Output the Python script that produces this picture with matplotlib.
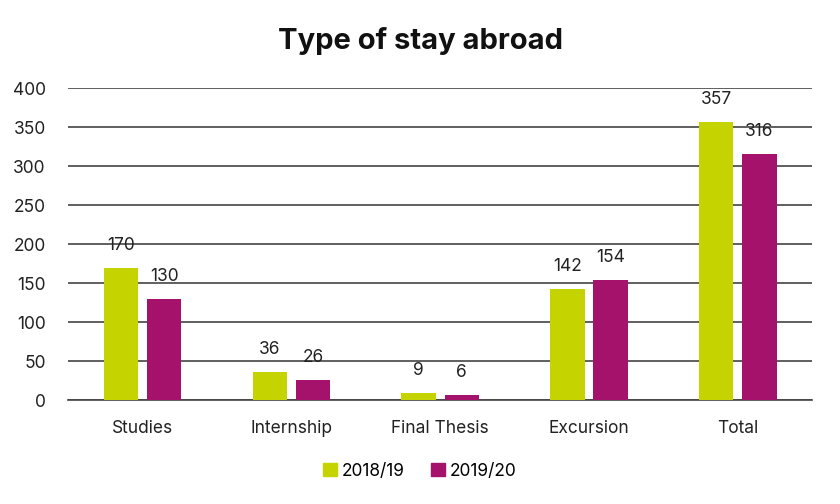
import numpy as np
from matplotlib import pyplot as plt
from matplotlib.patches import Patch

categories = ['Studies', 'Internship', 'Final Thesis', 'Excursion', 'Total']
series_names = ['2018/19', '2019/20']
values_1819 = [170, 36, 9, 142, 357]
values_1920 = [130, 26, 6, 154, 316]
colors = ['#c5d300', '#a5126b']

plt.rcParams['font.family'] = ['Inter', 'DejaVu Sans']

fig = plt.figure(figsize=(8.4, 5.04), dpi=100)
ax = fig.add_axes([0.081, 0.206, 0.886, 0.619])

x = np.arange(len(categories))
w = 0.23
off = 0.145
for vals, dx, c in zip([values_1819, values_1920], [-off, off], colors):
    bars = ax.bar(x + dx, vals, width=w, color=c, zorder=3)
    for b, v in zip(bars, vals):
        ax.text(b.get_x() + b.get_width() / 2, v + 18, str(v), ha='center', va='bottom',
                fontsize=12.5, color='#222222')

ax.set_xlim(-0.5, len(categories) - 0.5)
ax.set_ylim(0, 400)
ax.set_yticks(range(0, 401, 50))
ax.yaxis.grid(True, color='#444444', linewidth=1.2, zorder=0)
ax.set_axisbelow(True)
for s in ['top', 'right', 'left']:
    ax.spines[s].set_visible(False)
ax.spines['bottom'].set_color('#444444')
ax.spines['bottom'].set_linewidth(1.2)
ax.tick_params(axis='both', length=0, labelsize=12.5, colors='#222222')
ax.tick_params(axis='y', pad=16)
ax.tick_params(axis='x', pad=14)
ax.set_xticks(x)
ax.set_xticklabels(categories)

fig.text(0.5, 0.918, 'Type of stay abroad', ha='center', va='center',
         fontsize=21, fontweight='bold', color='#111111')

handles = [Patch(color=c, label=n) for c, n in zip(colors, series_names)]
fig.legend(handles=handles, loc='center', bbox_to_anchor=(0.5, 0.065), ncol=2,
           frameon=False, fontsize=12.5, handlelength=0.8, handleheight=0.8,
           handletextpad=0.3, columnspacing=1.5)

fig.savefig('out.png', dpi=100)
